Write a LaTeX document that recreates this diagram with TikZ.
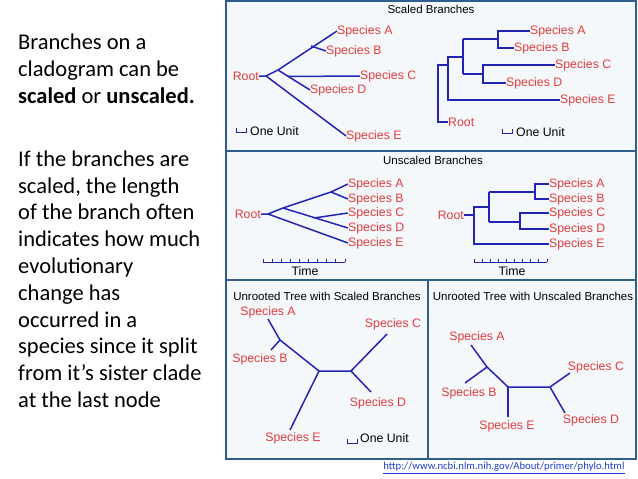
\documentclass[tikz,border=0pt]{standalone}
\usepackage{fontspec}
\setmainfont{Carlito}
\newfontfamily\arialf{Liberation Sans}
\definecolor{tree}{HTML}{2424B4}
\definecolor{lab}{HTML}{E23C3C}
\definecolor{frame}{HTML}{2E5F8C}
\definecolor{panel}{HTML}{F5F8FB}
\definecolor{url}{HTML}{1F3FD0}
\begin{document}
\begin{tikzpicture}[x=1pt,y=-1pt,
  br/.style={draw=tree,line width=1.5pt},
  sp/.style={text=lab,font=\arialf\fontsize{12.3}{13}\selectfont,inner sep=0pt,anchor=west},
  ttl/.style={font=\arialf\fontsize{11.5}{13}\selectfont,inner sep=0pt},
  unit/.style={font=\arialf\fontsize{12.3}{13}\selectfont,inner sep=0pt,anchor=west}]
\useasboundingbox (0,0) rectangle (638,479);
\fill[white] (0,0) rectangle (638,479);
% frame
\filldraw[fill=panel,draw=frame,line width=1.8pt] (226,1) rectangle (636,459);
\draw[frame,line width=1.8pt] (226,151) -- (636,151) (226,280) -- (636,280) (428,280) -- (428,459);
% left text
\node[anchor=north west,align=left,inner sep=0pt,font=\fontsize{22.5}{26.8}\selectfont] (txt) at (18,34)
 {Branches on a\\cladogram can be\\\textbf{scaled} or \textbf{unscaled.}\\[36pt]If the branches are\\scaled, the length\\of the branch often\\indicates how much\\evolutionary\\change has\\occurred in a\\species since it split\\from it's sister clade\\at the last node};
% titles
\node[ttl] (t1) at (431,9) {Scaled Branches};
\node[ttl] (t2) at (433,160) {Unscaled Branches};
\node[ttl] (t3) at (327,296) {Unrooted Tree with Scaled Branches};
\node[ttl] (t4) at (533,296) {Unrooted Tree with Unscaled Branches};
% ---- scaled left
\node[sp,anchor=east] (r1) at (259,76) {Root};
\coordinate (R1) at (266,76); \coordinate (n1) at (278,70); \coordinate (n2) at (311,46);
\coordinate (n3) at (288,76.5);
\node[sp] (a1) at (337,31) {Species A};
\node[sp] (b1) at (326,51) {Species B};
\node[sp] (c1) at (360,76) {Species C};
\node[sp] (d1) at (310,90) {Species D};
\node[sp] (e1) at (346,136) {Species E};
\draw[br] (r1.east) -- (R1) -- (n1) -- (a1.west);
\draw[br] (n2) -- (b1.west);
\draw[br] (R1) -- (e1.west);
\draw[br] (n1) -- (d1.west);
\draw[br] (n3) -- (c1.west);
\draw[draw=tree,line width=1pt] (236,128) -- (236,132) -- (246,132) -- (246,128);
\node[unit] (u1) at (250,131) {One Unit};
% ---- scaled right
\node[sp] (r2) at (448,122) {Root};
\node[sp] (a2) at (530,31) {Species A};
\node[sp] (b2) at (514,48) {Species B};
\node[sp] (c2) at (555,65) {Species C};
\node[sp] (d2) at (506,83) {Species D};
\node[sp] (e2) at (560,100) {Species E};
\draw[br] (r2.west) -| (438,65) -- (448,65);
\draw[br] (e2.west) -| (448,57) -- (463,57);
\draw[br] (463,39) -- (463,74);
\draw[br] (463,39) -- (498,39); \draw[br] (a2.west) -| (498,48) -- (b2.west);
\draw[br] (463,74) -- (483,74); \draw[br] (c2.west) -| (483,83) -- (d2.west);
\draw[draw=tree,line width=1pt] (502,129) -- (502,133) -- (512,133) -- (512,129);
\node[unit] (u2) at (516,132) {One Unit};
% ---- unscaled left
\node[sp,anchor=east] (r3) at (261,214) {Root};
\coordinate (R3) at (268,214); \coordinate (m1) at (283,208); \coordinate (m2) at (331,192); \coordinate (m3) at (314,218);
\node[sp] (a3) at (348,184) {Species A};
\node[sp] (b3) at (348,199) {Species B};
\node[sp] (c3) at (348,213) {Species C};
\node[sp] (d3) at (348,228) {Species D};
\node[sp] (e3) at (348,243) {Species E};
\draw[br] (r3.east) -- (R3) -- (m1) -- (m2) -- (a3.west);
\draw[br] (m2) -- (b3.west);
\draw[br] (R3) -- (e3.west);
\draw[br] (m1) -- (d3.west);
\draw[br] (m3) -- (c3.west);
\draw[draw=tree,line width=0.8pt] (263,262) -- (345,262);
\foreach \i in {0,...,9} \draw[draw=tree,line width=0.8pt] ({263+\i*82/9},262) -- ++(0,-3);
\node[unit,anchor=center] (tm1) at (305,271) {Time};
% ---- unscaled right
\node[sp,anchor=east] (r4) at (464,215) {Root};
\node[sp] (a4) at (549,184) {Species A};
\node[sp] (b4) at (549,199) {Species B};
\node[sp] (c4) at (549,213) {Species C};
\node[sp] (d4) at (549,229) {Species D};
\node[sp] (e4) at (549,244) {Species E};
\draw[br] (r4.east) -- (474,215);
\draw[br] (e4.west) -| (474,207) -- (489,207);
\draw[br] (489,192) -- (489,222);
\draw[br] (489,192) -- (535,192); \draw[br] (a4.west) -| (535,199) -- (b4.west);
\draw[br] (489,222) -- (520,222); \draw[br] (c4.west) -| (520,229) -- (d4.west);
\draw[draw=tree,line width=0.8pt] (474,262) -- (547,262);
\foreach \i in {0,...,9} \draw[draw=tree,line width=0.8pt] ({474+\i*73/9},262) -- ++(0,-3);
\node[unit,anchor=center] (tm2) at (512,271) {Time};
% ---- unrooted scaled
\coordinate (pA) at (268,319); \coordinate (pAB) at (280,340); \coordinate (pB) at (271,350);
\coordinate (pc1) at (319,371); \coordinate (pc2) at (351,371); \coordinate (pC) at (387,334);
\coordinate (pD) at (371,392); \coordinate (pE) at (290,430);
\draw[br] (pA) -- (pAB) -- (pc1) -- (pc2) -- (pC);
\draw[br] (pAB) -- (pB); \draw[br] (pc2) -- (pD); \draw[br] (pc1) -- (pE);
\node[sp,anchor=center] (a5) at (268,312) {Species A};
\node[sp,anchor=center] (b5) at (260,359) {Species B};
\node[sp,anchor=center] (c5) at (393,324) {Species C};
\node[sp,anchor=center] (d5) at (378,403) {Species D};
\node[sp,anchor=center] (e5) at (293,438) {Species E};
\draw[draw=tree,line width=1pt] (347,439) -- (347,443) -- (357,443) -- (357,439);
\node[unit] (u3) at (360,438) {One Unit};
% ---- unrooted unscaled
\coordinate (qA) at (471,345); \coordinate (qAB) at (487,367); \coordinate (qB) at (465,383);
\coordinate (qc1) at (508,387); \coordinate (qc2) at (550,387); \coordinate (qC) at (570,373);
\coordinate (qD) at (565,413); \coordinate (qE) at (508,417);
\draw[br] (qA) -- (qAB) -- (qc1) -- (qc2) -- (qC);
\draw[br] (qAB) -- (qB); \draw[br] (qc2) -- (qD); \draw[br] (qc1) -- (qE);
\node[sp,anchor=center] (a6) at (477,337) {Species A};
\node[sp,anchor=center] (b6) at (469,393) {Species B};
\node[sp,anchor=center] (c6) at (596,367) {Species C};
\node[sp,anchor=center] (d6) at (591,420) {Species D};
\node[sp,anchor=center] (e6) at (507,426) {Species E};
% url
\node[inner sep=0pt,text=url,font=\fontsize{10.7}{12}\selectfont] (url) at (504,468) {\underline{http://www.ncbi.nlm.nih.gov/About/primer/phylo.html}};
\end{tikzpicture}
\end{document}
